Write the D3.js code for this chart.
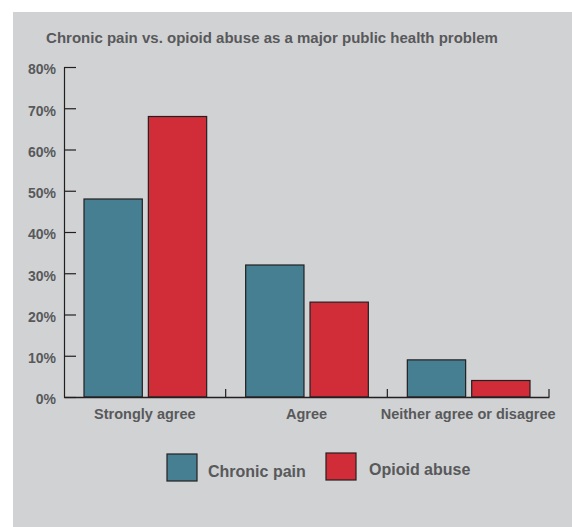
<!DOCTYPE html>
<html><head><meta charset="utf-8">
<script src="https://cdn.jsdelivr.net/npm/d3@7"></script>
<style>
html,body{margin:0;padding:0;background:#fff;}
svg{display:block;font-family:"Liberation Sans",Arial,Helvetica,sans-serif;font-weight:bold;}
</style></head>
<body><svg id="c" width="572" height="527"></svg>
<script>
const categories = ["Strongly agree", "Agree", "Neither agree or disagree"];
const seriesNames = ["Chronic pain", "Opioid abuse"];
const chronicPain = [48, 32, 9];
const opioidAbuse = [68, 23, 4];
const yTicks = [0, 10, 20, 30, 40, 50, 60, 70, 80];
const colors = ["#467f91", "#d12d39"];

(function () {
const data = categories.map((c, i) => ({cat: c, vals: [chronicPain[i], opioidAbuse[i]]}));

const svg = d3.select("#c");
const textColor = "#58595b";
svg.append("rect").attr("x", 13).attr("y", 12).attr("width", 559).attr("height", 515).attr("fill", "#d1d2d4");

svg.append("text").attr("x", 272).attr("y", 43).attr("text-anchor", "middle")
  .attr("font-size", 15).attr("fill", textColor)
  .text("Chronic pain vs. opioid abuse as a major public health problem");

const pLeft = 64, pRight = 549, pTop = 67, pBottom = 397;
const x = d3.scaleBand().domain(categories).range([pLeft, pRight]).paddingInner(0).paddingOuter(0);
const y = d3.scaleLinear().domain([0, 80]).range([pBottom, pTop]);
const x1 = d3.scaleBand().domain(seriesNames).range([20, x.bandwidth() - 19]).paddingInner(0.094);

// y axis
const yAxis = d3.axisLeft(y).tickValues(yTicks).tickSizeInner(-12).tickSizeOuter(0).tickPadding(8)
  .tickFormat(d => d + "%");
const gy = svg.append("g").attr("transform", `translate(${pLeft},0)`).call(yAxis);
gy.select(".domain").attr("stroke", "#231f20").attr("stroke-width", 1.2);
gy.selectAll(".tick line").attr("stroke", "#231f20").attr("stroke-width", 1.2);
gy.selectAll(".tick text").attr("fill", textColor).attr("font-size", 14)
  .attr("font-family", "'Liberation Sans',Arial,sans-serif").attr("font-weight", "bold")
  .attr("x", -8).attr("dy", "0.85em").attr("y", -5);

// bars
const groups = svg.append("g").selectAll("g").data(data).join("g")
  .attr("transform", d => `translate(${x(d.cat)},0)`);
groups.selectAll("rect").data(d => d.vals.map((v, j) => ({v, s: seriesNames[j], j})))
  .join("rect")
  .attr("x", d => x1(d.s)).attr("width", x1.bandwidth())
  .attr("y", d => y(d.v)).attr("height", d => pBottom - y(d.v))
  .attr("fill", d => colors[d.j]).attr("stroke", "#231f20").attr("stroke-width", 1.2);

// x axis
const xAxis = d3.axisBottom(x).tickSize(0).tickPadding(12);
const gx = svg.append("g").attr("transform", `translate(0,${pBottom})`).call(xAxis);
gx.select(".domain").attr("stroke", "#231f20").attr("stroke-width", 1.4);
gx.selectAll(".tick text").attr("fill", textColor).attr("font-size", 14.5)
  .attr("font-family", "'Liberation Sans',Arial,sans-serif").attr("font-weight", "bold").attr("dy", "0.7em");
const edges = categories.slice(1).map(c => x(c)).concat([x(categories[categories.length - 1]) + x.bandwidth()]);
svg.append("g").selectAll("line").data(edges).join("line")
  .attr("x1", d => d).attr("x2", d => d).attr("y1", pBottom).attr("y2", pBottom - 8)
  .attr("stroke", "#231f20").attr("stroke-width", 1.2);

// legend
const legend = [{x: 167, tx: 208, ty: 477, sy: 454}, {x: 326, tx: 369, ty: 475, sy: 453}];
seriesNames.forEach((s, i) => {
  svg.append("rect").attr("x", legend[i].x).attr("y", legend[i].sy).attr("width", 30).attr("height", 27)
    .attr("fill", colors[i]).attr("stroke", "#231f20").attr("stroke-width", 1.2);
  svg.append("text").attr("x", legend[i].tx).attr("y", legend[i].ty).attr("font-size", 16)
    .attr("fill", textColor).text(s);
});
})();
</script></body></html>
